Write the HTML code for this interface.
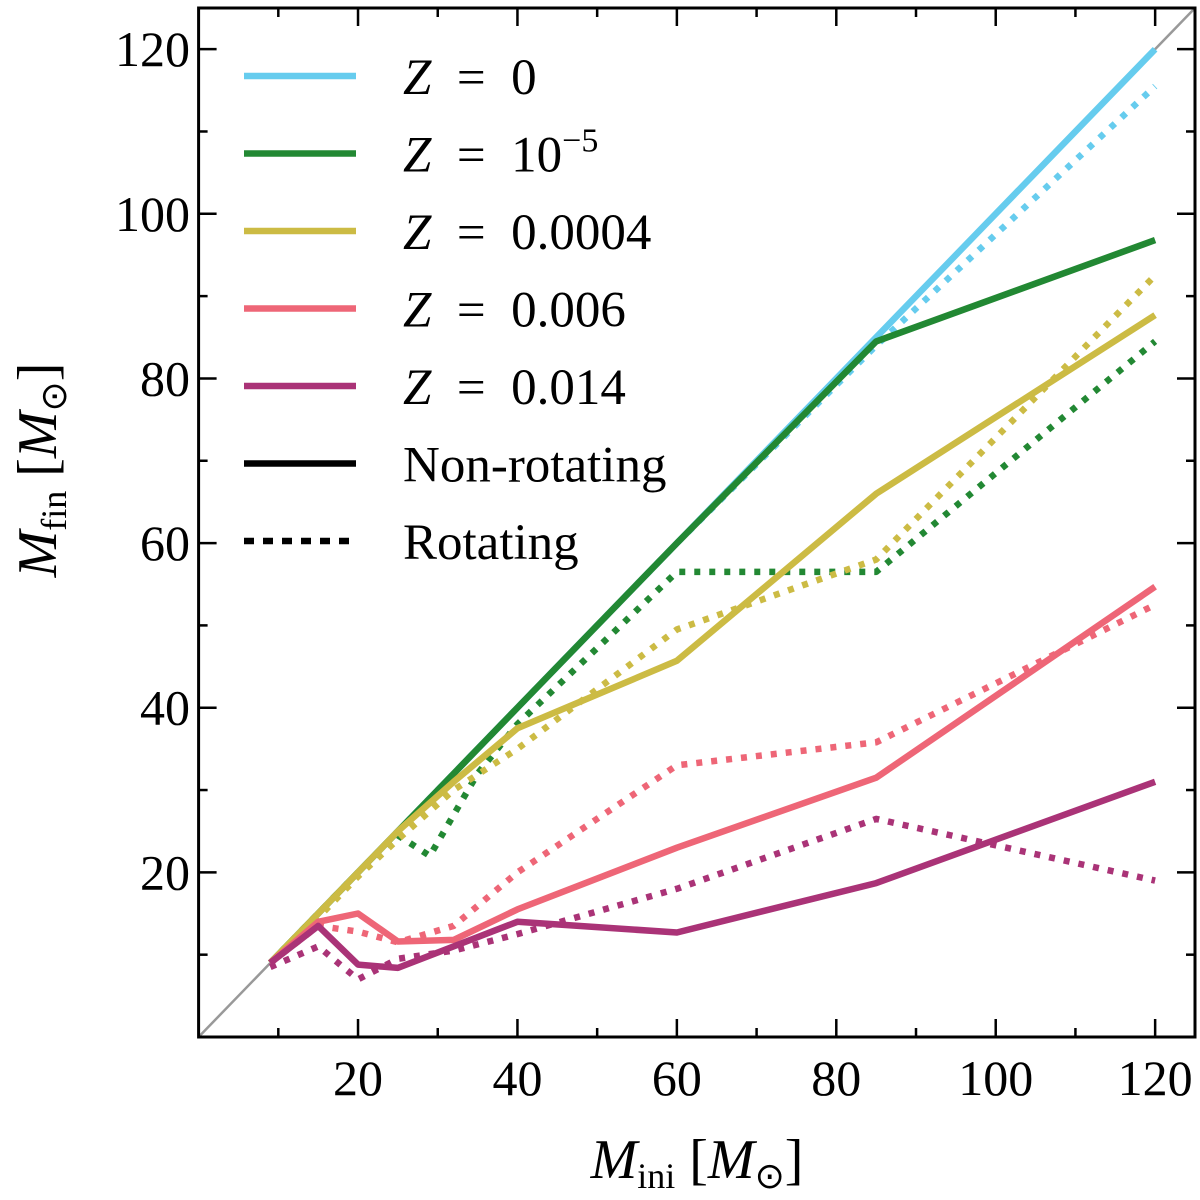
<!DOCTYPE html>
<html><head><meta charset="utf-8"><style>
html,body{margin:0;padding:0;background:#fff}
svg{display:block;font-family:"Liberation Serif",serif}
</style></head><body>
<svg id="chart" width="1200" height="1200" viewBox="0 0 1200 1200" xmlns="http://www.w3.org/2000/svg">
<g id="plot"></g>
</svg>
<script>
const xTicks=[20,40,60,80,100,120];
const yTicks=[20,40,60,80,100,120];
const names=["Z=0","Z=1e-5","Z=0.0004","Z=0.006","Z=0.014"];
const colors=["#66ccee","#228833","#ccbb44","#ee6677","#aa3377"];
const z0RotX=[9,15,20,25,32,40,60,85,120];
const z0RotY=[9,15,20,25,32,40,60,84,115.5];
const z0X=[9,15,20,25,32,40,60,85,120];
const z0Y=[9,15,20,25,32,40,60,85,120];
const z5X=[9,15,20,25,32,40,60,85,120];
const z5Y=[9,15,20,25,32,40,60,84.5,96.8];
const z5RotX=[9,15,20,25,29,35,40,60,85,120];
const z5RotY=[9,15,20,24.5,22,32,38,56.5,56.5,84.5];
const z4X=[9,15,20,25,32,40,60,85,120];
const z4Y=[9,15,20,25,31,37.5,45.7,66,87.7];
const z4RotX=[9,15,20,25,32,40,60,85,120];
const z4RotY=[9,14.5,19.5,24,30,35,49.5,58,92.5];
const z6X=[9,15,20,25,32,40,60,85,120];
const z6Y=[9,14,15,11.6,11.8,15.5,23,31.5,54.7];
const z6RotX=[9,15,20,25,32,40,60,85,120];
const z6RotY=[9,13.5,12.8,11.5,13.5,20,33,35.8,52.5];
const z14X=[9,15,20,25,32,40,60,85,120];
const z14Y=[9,13.5,8.8,8.4,11,14,12.7,18.7,31];
const z14RotX=[9,15,20,25,32,40,60,85,120];
const z14RotY=[8.5,11,7,9.5,10.5,12.5,18,26.5,19];

const L=198.6,R=1195,T=8,B=1037,MAX=125;
const sx=v=>L+v*(R-L)/MAX;
const sy=v=>B-v*(B-T)/MAX;
const NS="http://www.w3.org/2000/svg";
const g=document.getElementById('plot');
function mk(tag,attrs,parent){const e=document.createElementNS(NS,tag);for(const k in attrs)e.setAttribute(k,attrs[k]);(parent||g).appendChild(e);return e;}

let d=mk('line',{x1:sx(0),y1:sy(0),x2:sx(MAX),y2:sy(MAX),stroke:'#999','stroke-width':2.5});



const series=[
 [z0X,z0Y,0,false],[z0RotX,z0RotY,0,true],
 [z5X,z5Y,1,false],[z5RotX,z5RotY,1,true],
 [z4X,z4Y,2,false],[z4RotX,z4RotY,2,true],
 [z6X,z6Y,3,false],[z6RotX,z6RotY,3,true],
 [z14X,z14Y,4,false],[z14RotX,z14RotY,4,true]];
series.forEach(([xs,ys,ci,dot])=>{
 const p=xs.map((x,i)=>sx(x).toFixed(1)+','+sy(ys[i]).toFixed(1)).join(' ');
 const a={points:p,fill:'none',stroke:colors[ci],'stroke-width':6.5,'stroke-linejoin':'round'};
 if(dot){a['stroke-dasharray']='6,9';}
 const e=mk('polyline',a);
 
 
});

let f=mk('rect',{x:L,y:T,width:R-L,height:B-T,fill:'none',stroke:'#000','stroke-width':3});



for(let v=10;v<MAX;v+=10){
 const major=v%20===0,len=major?18:9;
 [[sx(v),B,sx(v),B-len],[sx(v),T,sx(v),T+len],[L,sy(v),L+len,sy(v)],[R,sy(v),R-len,sy(v)]].forEach(c=>{
  const t=mk('line',{x1:c[0],y1:c[1],x2:c[2],y2:c[3],stroke:'#000','stroke-width':2.5});
  
  
 });
}
xTicks.forEach(v=>{const t=mk('text',{x:sx(v),y:1095,'font-size':50,'text-anchor':'middle'});t.textContent=v;
 
 });
yTicks.forEach(v=>{const t=mk('text',{x:190,y:sy(v)+17,'font-size':50,'text-anchor':'end'});t.textContent=v;
 
 });

let xt=mk('text',{x:697,y:1178,'font-size':56,'text-anchor':'middle'});
xt.innerHTML='<tspan font-style="italic">M</tspan><tspan font-size="36" dy="10">ini</tspan><tspan dy="-10"> [</tspan><tspan font-style="italic">M</tspan><tspan font-size="36" dy="10">⊙</tspan><tspan dy="-10">]</tspan>';


let yt=mk('text',{x:0,y:0,'font-size':56,'text-anchor':'middle',transform:'translate(56,470) rotate(-90)'});
yt.innerHTML='<tspan font-style="italic">M</tspan><tspan font-size="36" dy="10">fin</tspan><tspan dy="-10"> [</tspan><tspan font-style="italic">M</tspan><tspan font-size="36" dy="10">⊙</tspan><tspan dy="-10">]</tspan>';



const legLabels=['<tspan font-style="italic">Z</tspan>  =  0','<tspan font-style="italic">Z</tspan>  =  10<tspan font-size="34" dy="-20">−5</tspan>','<tspan font-style="italic">Z</tspan>  =  0.0004','<tspan font-style="italic">Z</tspan>  =  0.006','<tspan font-style="italic">Z</tspan>  =  0.014','Non-rotating','Rotating'];
legLabels.forEach((lab,i)=>{
 const y=76+i*77.5;
 const a={x1:244,y1:y,x2:356,y2:y,stroke:i<5?colors[i]:'#000','stroke-width':6.5};
 if(i===6)a['stroke-dasharray']='10,9';
 const l=mk('line',a);
 
 
 const t=mk('text',{x:403,y:y+18,'font-size':51,'xml:space':'preserve'});
 t.setAttribute('style','white-space:pre');
 t.innerHTML=lab;
 
 
});
</script>
</body></html>
